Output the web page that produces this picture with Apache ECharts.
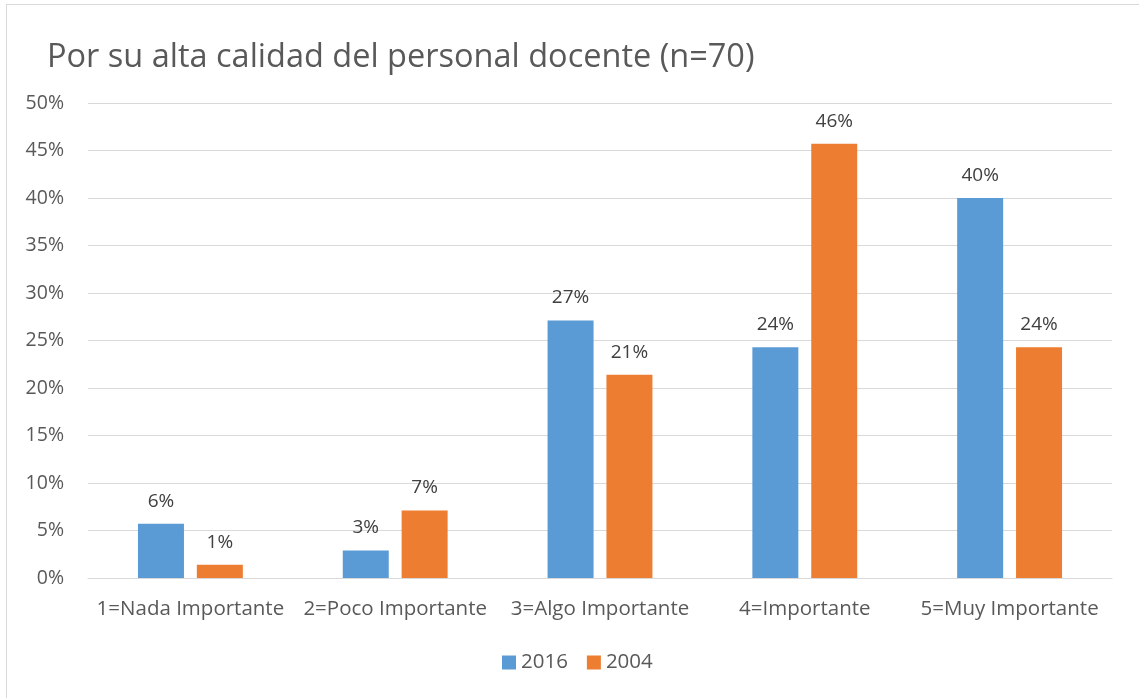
<!DOCTYPE html>
<html>
<head>
<meta charset="utf-8">
<script src="https://cdn.jsdelivr.net/npm/echarts@6/dist/echarts.min.js"></script>
<style>
    html, body { margin: 0; padding: 0; background: #fff; }
    #frame {
        position: absolute; left: 6px; top: 4px; width: 1140px; height: 700px;
        border: 1px solid #D9D9D9; box-sizing: border-box;
    }
    #chart { position: absolute; left: 0; top: 0; width: 1139px; height: 698px; }
</style>
</head>
<body>
<div id="frame"></div>
<div id="chart"></div>
<script>
// Chart data
const categories = ['1=Nada Importante', '2=Poco Importante', '3=Algo Importante', '4=Importante', '5=Muy Importante'];
const values2016 = [5.7, 2.9, 27.1, 24.3, 40.0];
const values2004 = [1.4, 7.1, 21.4, 45.7, 24.3];
const seriesNames = ['2016', '2004'];

const fontFamily = 'Open Sans';
const textColor = '#595959';

const chart = echarts.init(document.getElementById('chart'));

const labelStyle = {
    show: true,
    position: 'top',
    distance: 13,
    color: '#404040',
    fontSize: 19,
    fontFamily: fontFamily,
    formatter: function(p) { return Math.round(p.value) + '%'; }
};

chart.setOption({
    backgroundColor: 'transparent',
    animation: false,
    title: {
        text: 'Por su alta calidad del personal docente (n=70)',
        left: 42,
        top: 36,
        textStyle: {
            color: textColor,
            fontSize: 32.5,
            fontWeight: 'normal',
            fontFamily: fontFamily
        }
    },
    legend: {
        data: seriesNames,
        bottom: 20,
        left: 497,
        itemWidth: 14,
        itemHeight: 14,
        itemGap: 19,
        icon: 'rect',
        textStyle: { color: textColor, fontSize: 20.5, fontFamily: fontFamily }
    },
    grid: {
        left: 88,
        right: 27,
        top: 103,
        bottom: 120
    },
    xAxis: {
        type: 'category',
        data: categories,
        axisLine: { show: true, lineStyle: { color: '#D9D9D9' } },
        axisTick: { show: false },
        axisLabel: {
            color: textColor,
            fontSize: 20.5,
            fontFamily: fontFamily,
            margin: 21,
            interval: 0
        }
    },
    yAxis: {
        type: 'value',
        min: 0,
        max: 50,
        interval: 5,
        axisLine: { show: false },
        axisTick: { show: false },
        axisLabel: {
            color: textColor,
            fontSize: 19.5,
            fontFamily: fontFamily,
            margin: 24,
            formatter: '{value}%'
        },
        splitLine: { lineStyle: { color: '#D9D9D9', width: 1 } }
    },
    series: [{
        name: seriesNames[0],
        type: 'bar',
        data: values2016,
        barWidth: 46,
        barGap: '28%',
        itemStyle: { color: '#5B9BD5' },
        label: labelStyle
    }, {
        name: seriesNames[1],
        type: 'bar',
        data: values2004,
        barWidth: 46,
        itemStyle: { color: '#ED7D31' },
        label: labelStyle
    }]
});
</script>
</body>
</html>
